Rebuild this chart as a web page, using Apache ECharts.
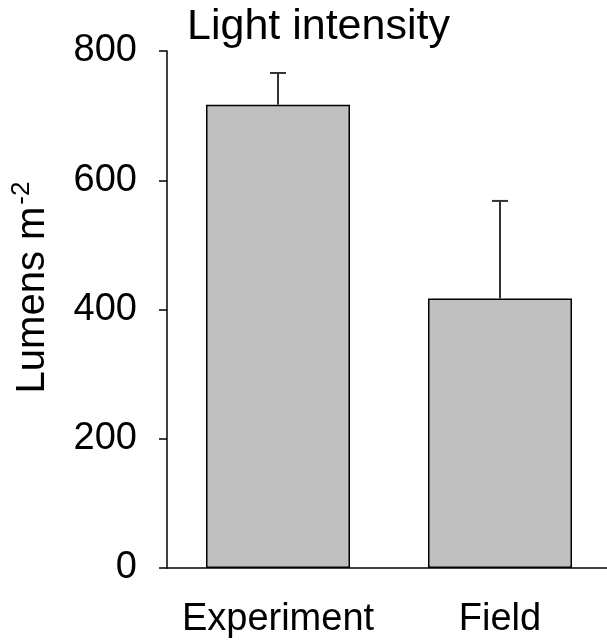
<!DOCTYPE html>
<html>
<head>
<meta charset="utf-8">
<script src="https://cdn.jsdelivr.net/npm/echarts@6/dist/echarts.min.js"></script>
<style>
  html, body { margin: 0; padding: 0; background: #fff; overflow: hidden; }
  /* plot area runs slightly past the right edge in the original */
  #chart { width: 611px; height: 641px; }
</style>
</head>
<body>
<div id="chart"></div>
<script>
// data
const categories = ['Experiment', 'Field'];
const means = [717, 417];
const errors = [49, 151];
const yTicks = [0, 200, 400, 600, 800];

const FONT = '"Liberation Sans", Arial, sans-serif';

const chart = echarts.init(document.getElementById('chart'));

chart.setOption({
    animation: false,
    backgroundColor: '#fff',
    title: {
        text: 'Light intensity',
        left: 182,
        top: 1,
        textStyle: { fontFamily: FONT, fontSize: 43, fontWeight: 'normal', color: '#000' },
    },
    grid: { left: 167, top: 51, right: 0, bottom: 73 },
    xAxis: {
        type: 'category',
        data: categories,
        axisLine: { lineStyle: { color: '#000', width: 1.5 } },
        axisTick: { alignWithLabel: true, length: 8, lineStyle: { color: '#000', width: 1.5 } },
        axisLabel: { interval: 0, margin: 33, fontFamily: FONT, fontSize: 38, color: '#000' },
    },
    yAxis: {
        type: 'value',
        min: yTicks[0],
        max: yTicks[yTicks.length - 1],
        interval: 200,
        name: '{a|Lumens m}{sup|-2}',
        nameLocation: 'middle',
        nameRotate: 90,
        nameGap: 110,
        nameTextStyle: {
            fontFamily: FONT, fontSize: 40, color: '#000',
            padding: [0, 0, 0, 44],
            rich: {
                a: { fontFamily: FONT, fontSize: 40, color: '#000' },
                sup: { fontFamily: FONT, fontSize: 26, color: '#000', verticalAlign: 'bottom', padding: [0, 0, 22, 2] },
            },
        },
        axisLine: { show: true, lineStyle: { color: '#000', width: 1.5 } },
        axisTick: { show: true, length: 8, lineStyle: { color: '#000', width: 1.5 } },
        axisLabel: { margin: 30, fontFamily: FONT, fontSize: 38, color: '#000' },
        splitLine: { show: false },
    },
    series: [
        {
            type: 'bar',
            data: means,
            barWidth: 144,
            itemStyle: { color: '#c0c0c0', borderColor: '#000', borderWidth: 1.5 },
            z: 2,
        },
        {
            type: 'custom',
            z: 3,
            data: means.map((m, i) => [i, m, m + errors[i]]),
            renderItem(params, api) {
                const base = api.coord([api.value(0), api.value(1)]);
                const top = api.coord([api.value(0), api.value(2)]);
                const half = 8;
                return {
                    type: 'group',
                    children: [
                        { type: 'line', shape: { x1: base[0], y1: base[1], x2: top[0], y2: top[1] },
                          style: { stroke: '#333', lineWidth: 2 } },
                        { type: 'line', shape: { x1: top[0] - half, y1: top[1], x2: top[0] + half, y2: top[1] },
                          style: { stroke: '#333', lineWidth: 2 } },
                    ],
                };
            },
        },
    ],
});
</script>
</body>
</html>
